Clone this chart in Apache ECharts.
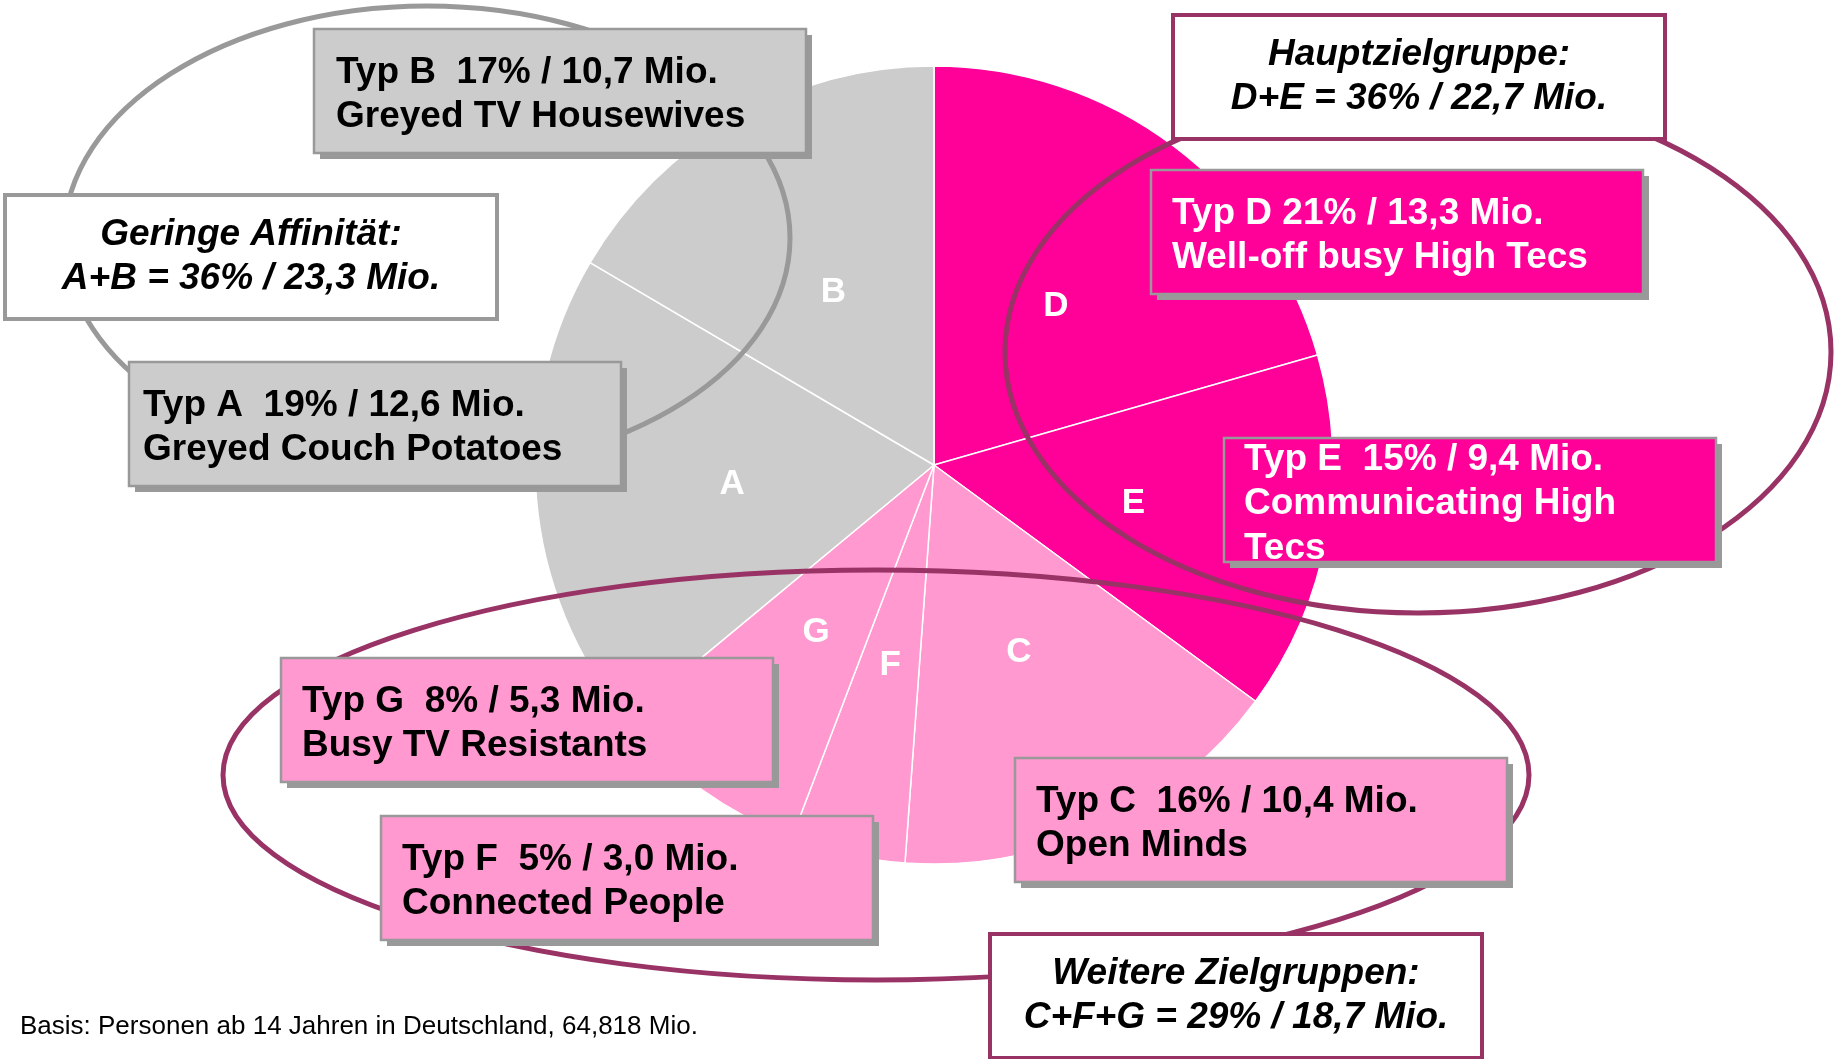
<!DOCTYPE html>
<html>
<head>
<meta charset="utf-8">
<script src="https://cdn.jsdelivr.net/npm/echarts@6/dist/echarts.min.js"></script>
<style>
  html, body { margin: 0; padding: 0; background: #fff; }
  #chart { width: 1838px; height: 1059px; }
</style>
</head>
<body>
<div id="chart"></div>
<script>
// segments clockwise from 12 o'clock
const segNames = ['D', 'E', 'C', 'F', 'G', 'A', 'B']
const segMio = [13.3, 9.4, 10.4, 3.0, 5.3, 12.6, 10.7]
const segPct = [21, 15, 16, 5, 8, 19, 17]
const segTitles = [
  ['Well-off busy High Tecs'],
  ['Communicating High', 'Tecs'],
  ['Open Minds'],
  ['Connected People'],
  ['Busy TV Resistants'],
  ['Greyed Couch Potatoes'],
  ['Greyed TV Housewives']
]
const groupTitles = ['Hauptzielgruppe:', 'Weitere Zielgruppen:', 'Geringe Affinität:']
const groupMembers = [['D', 'E'], ['C', 'F', 'G'], ['A', 'B']]
const groupPct = [36, 29, 36]
const groupMio = [22.7, 18.7, 23.3]
const footnote = 'Basis: Personen ab 14 Jahren in Deutschland, 64,818 Mio.'

const HOT = '#ff0099'
const LIGHT = '#ff99d0'
const GREY = '#cccccc'
const MAUVE = '#993366'
const segColors = { D: HOT, E: HOT, C: LIGHT, F: LIGHT, G: LIGHT, A: GREY, B: GREY }
const FONT = '"Liberation Sans", Arial, sans-serif'

const fmt = v => v.toFixed(1).replace('.', ',')

// layout of the boxes (pixels)
const boxPos = {
  D: [1151, 170, 21], E: [1224, 438, 20], C: [1015, 758, 21], F: [381, 816, 21],
  G: [281, 658, 21], A: [129, 362, 14], B: [314, 29, 22]
}
const groupPos = [[1173, 15, MAUVE], [990, 934, MAUVE], [5, 195, '#999999']]
const BW = 492, BH = 124, LH = 44.5

const chart = echarts.init(document.getElementById('chart'))
const graphic = []

// group ellipses
graphic.push(
  { type: 'ellipse', z: 10, shape: { cx: 427, cy: 238, rx: 363, ry: 232 },
    style: { fill: 'none', stroke: '#999999', lineWidth: 5 } },
  { type: 'ellipse', z: 10, shape: { cx: 1418, cy: 352, rx: 413, ry: 261 },
    style: { fill: 'none', stroke: MAUVE, lineWidth: 5 } },
  { type: 'ellipse', z: 10, shape: { cx: 876, cy: 775, rx: 653, ry: 205 },
    style: { fill: 'none', stroke: MAUVE, lineWidth: 5 } }
)

// segment boxes
segNames.forEach((n, i) => {
  const [x, y, pad] = boxPos[n]
  const lines = [`Typ ${n}${n === 'D' ? ' ' : '  '}${segPct[i]}% / ${fmt(segMio[i])} Mio.`].concat(segTitles[i])
  const textColor = segColors[n] === HOT ? '#ffffff' : '#000000'
  graphic.push(
    { type: 'rect', z: 20, shape: { x: x + 6, y: y + 6, width: BW, height: BH }, style: { fill: '#999999' } },
    { type: 'rect', z: 21, shape: { x: x, y: y, width: BW, height: BH },
      style: { fill: segColors[n], stroke: '#999999', lineWidth: 2.5 } }
  )
  const cy = y + BH / 2 + 4
  lines.forEach((t, j) => {
    graphic.push({
      type: 'text', z: 22, x: x + pad, y: cy + (j - (lines.length - 1) / 2) * LH,
      style: { text: t, fill: textColor, font: `bold 37px ${FONT}`, textAlign: 'left', textVerticalAlign: 'middle' }
    })
  })
})

// group summary boxes
groupTitles.forEach((t, i) => {
  const [x, y, col] = groupPos[i]
  graphic.push({ type: 'rect', z: 21, shape: { x: x, y: y, width: BW, height: BH },
    style: { fill: '#ffffff', stroke: col, lineWidth: 4 } })
  const lines = [t, `${groupMembers[i].join('+')} = ${groupPct[i]}% / ${fmt(groupMio[i])} Mio.`]
  lines.forEach((s, j) => {
    graphic.push({
      type: 'text', z: 22, x: x + BW / 2, y: y + BH / 2 + (j - 0.5) * LH,
      style: { text: s, fill: '#000000', font: `italic bold 37px ${FONT}`, textAlign: 'center', textVerticalAlign: 'middle' }
    })
  })
})

graphic.push({
  type: 'text', z: 22, x: 20, y: 1027,
  style: { text: footnote, fill: '#000000', font: `26px ${FONT}`, textAlign: 'left', textVerticalAlign: 'middle' }
})

const option = {
  animation: false,
  backgroundColor: '#ffffff',
  series: [{
    type: 'pie',
    center: [934, 465],
    radius: [0, 399],
    startAngle: 90,
    clockwise: true,
    silent: true,
    emphasis: { disabled: true },
    itemStyle: { borderColor: '#ffffff', borderWidth: 1.5 },
    label: {
      position: 'inside',
      formatter: '{b}',
      color: '#ffffff',
      fontFamily: FONT,
      fontWeight: 'bold',
      fontSize: 35,
      offset: [0, 3]
    },
    labelLine: { show: false },
    data: segNames.map((n, i) => ({ name: n, value: segMio[i], itemStyle: { color: segColors[n] } }))
  }],
  graphic: { elements: graphic }
}

chart.setOption(option)
</script>
</body>
</html>
